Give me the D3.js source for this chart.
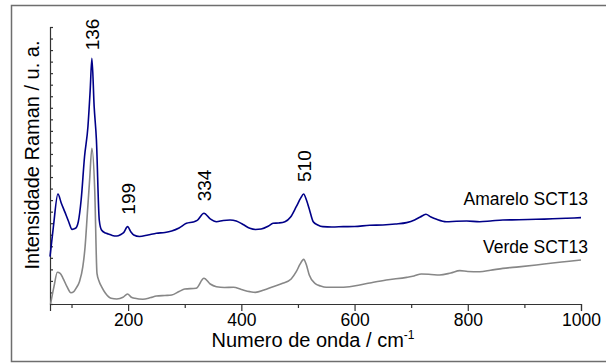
<!DOCTYPE html>
<html>
<head>
<meta charset="utf-8">
<script src="https://cdn.jsdelivr.net/npm/d3@7"></script>
<style>
  html, body { margin: 0; padding: 0; background: #fff; }
  svg { display: block; font-family: "Liberation Sans", Arial, sans-serif; }
</style>
</head>
<body>
<svg id="chart" width="606" height="363"></svg>
<script>
// Raman spectra, wavenumber (cm-1) and relative intensity (a.u.)
const amareloWn = [62, 68, 76, 82, 88, 95, 101, 107, 112, 117, 123, 129, 133, 136, 140, 144, 149, 153, 160, 165, 172, 180, 187, 192, 199, 205, 210, 220, 235, 250, 265, 277, 290, 303, 315, 322, 334, 345, 356, 368, 380, 391, 403, 415, 425, 435, 448, 456, 466, 477, 487, 497, 505, 510, 515, 520, 527, 535, 544, 560, 580, 600, 627, 650, 672, 692, 706, 716, 726, 735, 745, 762, 780, 798, 821, 840, 862, 890, 921, 950, 975, 1000];
const amareloInt = [4.10, 6.70, 9.53, 8.73, 8.00, 7.13, 6.47, 6.56, 7.13, 9.01, 12.76, 15.36, 18.54, 21.29, 17.10, 14.21, 7.28, 6.41, 6.15, 6.07, 5.94, 5.89, 6.02, 6.18, 6.70, 6.24, 5.98, 5.85, 5.98, 6.13, 6.20, 6.33, 6.59, 6.99, 7.11, 7.24, 7.86, 7.37, 7.13, 7.24, 7.28, 7.19, 6.89, 6.56, 6.46, 6.50, 6.76, 6.99, 7.02, 7.13, 7.54, 8.43, 9.19, 9.53, 9.01, 8.23, 7.13, 6.85, 6.70, 6.67, 6.70, 6.72, 6.82, 6.85, 6.93, 7.05, 7.28, 7.54, 7.77, 7.54, 7.34, 7.13, 7.17, 7.19, 7.13, 7.19, 7.28, 7.30, 7.34, 7.38, 7.43, 7.48];

const verdeWn = [63, 69, 75, 80, 85, 92, 99, 104, 108, 114, 120, 124, 128, 132, 136, 141, 145, 149, 153, 160, 170, 180, 191, 199, 205, 212, 226, 240, 250, 265, 277, 290, 300, 320, 334, 345, 356, 370, 386, 400, 415, 425, 440, 456, 473, 488, 497, 504, 510, 515, 520, 530, 540, 550, 570, 591, 609, 627, 656, 692, 705, 718, 735, 750, 770, 786, 800, 821, 840, 862, 890, 921, 950, 975, 1000];
const verdeInt = [0.00, 1.50, 2.75, 2.66, 2.23, 1.50, 0.98, 1.07, 1.36, 1.93, 3.23, 4.97, 7.86, 10.75, 13.49, 9.88, 2.66, 1.93, 1.50, 0.93, 0.49, 0.43, 0.58, 0.87, 0.61, 0.49, 0.41, 0.56, 0.69, 0.74, 0.78, 1.08, 1.30, 1.36, 2.23, 1.73, 1.50, 1.43, 1.45, 1.26, 1.07, 1.01, 1.21, 1.50, 1.79, 2.17, 2.80, 3.47, 3.87, 3.38, 2.51, 1.79, 1.56, 1.45, 1.45, 1.50, 1.65, 1.82, 2.08, 2.31, 2.43, 2.60, 2.56, 2.51, 2.69, 2.89, 2.82, 2.80, 2.92, 3.09, 3.22, 3.38, 3.55, 3.68, 3.81];

// Peak annotations (wavenumber) on the upper spectrum
const peakLabels = [136, 199, 334, 510];

// Axis ticks
const xTicks = [100, 200, 300, 400, 500, 600, 700, 800, 900, 1000];
const xLabelTicks = [200, 400, 600, 800, 1000];
const yTicks = d3.range(0, 25);

const svg = d3.select("#chart");

const x = d3.scaleLinear().domain([62, 1000]).range([50, 581]);
const y = d3.scaleLinear().domain([0, 24]).range([304, 27]);

// Outer frame
svg.append("rect")
  .attr("x", 11.5).attr("y", 5.5)
  .attr("width", 600).attr("height", 356)
  .attr("fill", "none")
  .attr("stroke", "#6e6e6e")
  .attr("stroke-width", 1.5);

// X axis
const xAxis = svg.append("g")
  .attr("transform", "translate(0,304)")
  .call(d3.axisBottom(x)
    .tickValues(xTicks)
    .tickSizeOuter(0)
    .tickSize(7)
    .tickPadding(3)
    .tickFormat(d => xLabelTicks.includes(d) ? d : ""));
xAxis.select(".domain").attr("stroke", "#333").attr("stroke-width", 1.2);
xAxis.selectAll(".tick line")
  .attr("stroke", "#333").attr("stroke-width", 1.2)
  .attr("y2", d => xLabelTicks.includes(d) ? 7 : 4);
xAxis.selectAll(".tick text")
  .attr("fill", "#000")
  .style("font-size", "17.5px")
  .style("font-family", "'Liberation Sans', Arial, sans-serif");

// Y axis (ticks only, pointing inward)
const yAxis = svg.append("g")
  .attr("transform", "translate(50,0)")
  .call(d3.axisRight(y)
    .tickValues(yTicks)
    .tickSizeOuter(0)
    .tickSize(3)
    .tickFormat(""));
yAxis.select(".domain").attr("stroke", "#333").attr("stroke-width", 1.2);
yAxis.selectAll(".tick line").attr("stroke", "#333").attr("stroke-width", 1.2);

// Axis titles
svg.append("text")
  .attr("x", 313).attr("y", 347)
  .attr("text-anchor", "middle")
  .style("font-size", "20px")
  .text("Numero de onda / cm")
  .append("tspan")
  .attr("dy", -8)
  .style("font-size", "12px")
  .text("-1");

svg.append("text")
  .attr("transform", "translate(39,155) rotate(-90)")
  .attr("text-anchor", "middle")
  .style("font-size", "20px")
  .text("Intensidade Raman / u. a.");

// Spectra
const line = d3.line()
  .x(d => x(d[0]))
  .y(d => y(d[1]))
  .curve(d3.curveMonotoneX);

const amarelo = amareloWn.map((v, i) => [v, amareloInt[i]]);
const verde = verdeWn.map((v, i) => [v, verdeInt[i]]);

svg.append("path")
  .datum(verde)
  .attr("fill", "none")
  .attr("stroke", "#878787")
  .attr("stroke-width", 1.6)
  .attr("d", line);

svg.append("path")
  .datum(amarelo)
  .attr("fill", "none")
  .attr("stroke", "#000088")
  .attr("stroke-width", 1.6)
  .attr("d", line);

// Peak labels, rotated, above each band of the upper spectrum
const peakY = v => y(amareloInt[amareloWn.indexOf(v)]);
svg.selectAll(".peak")
  .data(peakLabels)
  .join("text")
  .attr("class", "peak")
  .attr("transform", d => `translate(${x(d) + 7},${peakY(d) - (d === 136 ? 8 : 12)}) rotate(-90)`)
  .attr("text-anchor", "start")
  .style("font-size", "19px")
  .text(d => d);

// Series names
svg.append("text")
  .attr("x", 588).attr("y", 205)
  .attr("text-anchor", "end")
  .style("font-size", "17.5px")
  .text("Amarelo SCT13");

svg.append("text")
  .attr("x", 588).attr("y", 253)
  .attr("text-anchor", "end")
  .style("font-size", "17.5px")
  .text("Verde SCT13");
</script>
</body>
</html>
